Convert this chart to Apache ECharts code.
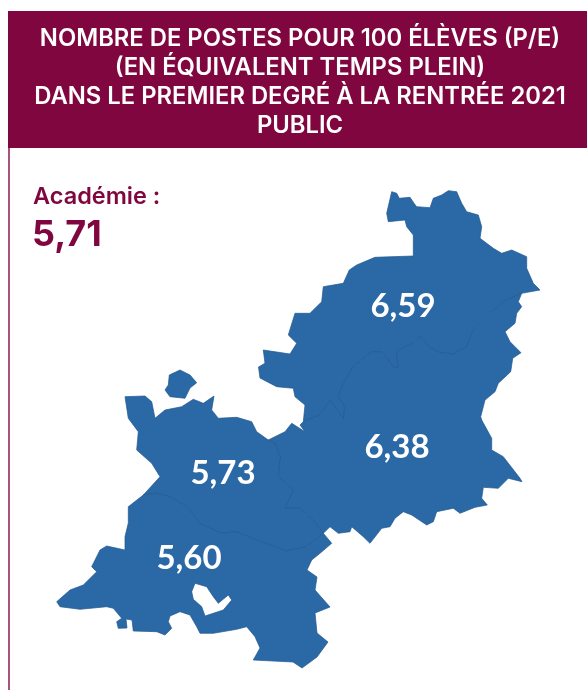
<!DOCTYPE html>
<html lang="fr">
<head>
<meta charset="utf-8">
<title>Nombre de postes pour 100 élèves</title>
<style>
html,body{margin:0;padding:0;background:#fff;}
#chart{width:587px;height:690px;}
</style>
<script src="https://cdn.jsdelivr.net/npm/echarts@6/dist/echarts.min.js"></script>
</head>
<body>
<div id="chart"></div>
<script>
// valeurs
const regionNames = ['nord', 'est', 'centre', 'sud'];
const regionValues = [6.59, 6.38, 5.73, 5.60];
const academieValue = 5.71;
const titleLines = [
    'NOMBRE DE POSTES POUR 100 ÉLÈVES (P/E)',
    '(EN ÉQUIVALENT TEMPS PLEIN)',
    'DANS LE PREMIER DEGRÉ À LA RENTRÉE 2021',
    'PUBLIC'
];

// contours de la carte, en pixels de l'image (x, y vers le bas)
const arcNord = [[303.3,421.7],[305,405],[295,396.7],[293.3,388.3],[276.7,386.7],[260,378],[258.5,367],[265,363.3],[263.3,350],[290,354],[296.7,343.3],[288.3,335],[295,313.3],[310,313.3],[321.7,301.7],[323.3,286.7],[343.3,283.3],[349.3,270],[356.7,265],[375,257.3],[413.3,256],[413.3,235],[406.7,226.7],[405,220],[388.3,221.7],[386.7,213.3],[391.7,191.7],[396.7,193.3],[399.3,198.3],[410,197.3],[414,203.3],[416.7,206.7],[430,207.7],[433.3,198.3],[441.7,195],[448.3,190.7],[456.7,191.7],[461.7,203.3],[466.7,211.7],[478.3,215],[481.7,226.7],[480,238.3],[493.3,248.3],[501.7,253.3],[511.7,250],[526.7,256.7],[526.7,268.3],[533.3,283.3],[540,290],[521.7,293.3]];
const arcEst = [[521.7,293.3],[518.3,301.7],[521.7,306.7],[516.7,313.3],[515,323.3],[505,331.7],[510,341.7],[521,352.7],[512.7,358.3],[510.7,371.7],[498.3,383.3],[495,391.7],[485,400],[480.7,416.7],[481.7,420],[491.7,438.3],[491.7,450],[503.3,456.7],[520,478.3],[522,481.7],[508.3,478.3],[498.3,488.3],[483.3,487.3],[481.7,498.3],[487.3,505],[475,507.3],[460,513.3],[453.3,508.3],[436.7,511.7],[433.3,521.7],[426.7,525],[411.7,515],[403.3,511.7],[395,518.3],[390,526.7],[381.7,528.3],[370,543.3],[363.3,536.7],[351.7,526.7],[350,531.7],[338.3,533.3],[330,526.7],[323.3,533.3]];
const arcSud = [[323.3,533.3],[331.7,543.3],[320,553.3],[311.7,560],[307,570],[317,577],[315,590],[330,607],[315,613],[317,633],[328,642],[317,657],[302,668],[293,662],[253.3,660],[260,648],[255,636.7],[246.7,626.7],[236.7,629.3],[213.3,633.3],[200,633.3],[196.7,626.7],[190,615],[180,611.7],[170,616],[168.3,621.7],[171.7,628.3],[165,635],[156.7,631.7],[133.3,631],[132,620],[126,619],[127,628],[118.3,628.3],[116.7,621.7],[121.7,618.3],[113.3,608.3],[106.7,606.7],[80,609.3],[60,606.7],[56.7,601.7],[70,590],[83.3,585],[96.7,571.7],[91.7,566.7],[100,550],[106.7,546],[125,550],[125,536.7],[128.3,523],[128.3,506.7],[143.3,495]];
const arcOuest = [[143.3,495],[160,476.7],[151.7,463.3],[136.7,450],[138.3,431.7],[128.3,418.3],[125,396.7],[145,396],[151.7,401.7],[155,418.3],[165,410],[181.7,406.7],[193.3,399.3],[203.3,403.3],[214,396],[211.7,410],[218.3,418.3],[236.7,417.3],[251.7,421.7],[256.7,431.7],[268.3,440]];
const arcBaie = [[268.3,440],[285,431.7],[291.7,423.3],[305,431.7],[300,425],[303.3,421.7]];
const limiteNordEst = [[303.3,421.7],[320,415],[330,400],[343.3,418.3],[345,406.7],[338.3,396.7],[343.3,383.3],[353.3,366.7],[371.7,351.7],[381.7,351.7],[393.3,366.7],[398.3,368.3],[396.7,351.7],[415,341.7],[420,336.7],[428.3,346.7],[440,352.7],[453.3,354],[466.7,346.7],[473.3,330],[490,313.3],[503.3,301.7],[521.7,293.3]];
const limiteEstCentre = [[268.3,440],[275,443],[280,456.7],[278.3,476.7],[293.3,490],[285,508.3],[300,508.3],[313.3,520],[323.3,533.3]];
const limiteCentreSud = [[143.3,495],[156.7,493.3],[170,496.7],[186.7,506.7],[200,523.3],[221.7,533.3],[236.7,531.7],[256.7,540],[286.7,551],[306.7,546.7],[323.3,533.3]];
const ile = [[180,370],[190,375],[196.7,382.7],[190,388],[185,398.3],[170,396.7],[165,390],[168.3,385],[169.3,375],[180,370]];
// trou : sens inverse du contour
const enclave = [[195,583.3],[191.7,591.7],[193.3,599.3],[201.7,606.7],[205,616],[223.3,610],[231.7,600],[228.3,595],[218.3,603.3],[213.3,596.7],[206.7,586.7],[195,583.3]];
const labelPoints = [[403,306],[397,447],[223,473],[189,558]];

// y inversé : la carte suit la convention latitude
function flip(pts){
    return pts.map((p)=>[p[0],-p[1]])
}
function back(pts){
    return pts.slice().reverse()
}
function ring(...arcs){
    let pts = [].concat(...arcs)
    pts.push(pts[0])
    return flip(pts)
}
function feature(i,geometry){
    return {
        type:'Feature',
        properties:{name:regionNames[i],cp:[labelPoints[i][0],-labelPoints[i][1]]},
        geometry
    }
}

const geoJson = {
    type:'FeatureCollection',
    features:[
        feature(0,{type:'Polygon',coordinates:[ring(arcNord,back(limiteNordEst))]}),
        feature(1,{type:'Polygon',coordinates:[ring(arcEst,back(limiteEstCentre),arcBaie,limiteNordEst)]}),
        feature(2,{type:'MultiPolygon',coordinates:[[ring(arcOuest,limiteEstCentre,back(limiteCentreSud))],[flip(ile)]]}),
        feature(3,{type:'Polygon',coordinates:[ring(arcSud,limiteCentreSud),flip(enclave)]})
    ]
};
echarts.registerMap('academie',geoJson);

function frNumber(v){
    return v.toFixed(2).replace('.',',')
}

const chart = echarts.init(document.getElementById('chart'),null,{renderer:'canvas'});
chart.setOption({
    animation:false,
    backgroundColor:'#fff',
    graphic:[
        {type:'rect',z:-1,shape:{x:8,y:11,width:579,height:137},style:{fill:'#7f063e'}},
        {type:'rect',z:-1,shape:{x:8,y:148,width:2,height:542},style:{fill:'#a8527f'}}
    ],
    title:[
        {
            text:titleLines.join('\n'),
            left:300,
            top:24,
            padding:0,
            textAlign:'center',
            textStyle:{color:'#fff',fontFamily:'Inter',fontWeight:600,fontSize:23.8,lineHeight:29}
        },
        {
            text:'Académie :',
            left:33,
            top:185,
            padding:0,
            textStyle:{color:'#7f063e',fontFamily:'Inter',fontWeight:600,fontSize:23.5}
        },
        {
            text:frNumber(academieValue),
            left:32,
            top:217,
            padding:0,
            textStyle:{color:'#7f063e',fontFamily:'Inter',fontWeight:700,fontSize:36}
        }
    ],
    series:[{
        type:'map',
        map:'academie',
        silent:true,
        left:0,
        top:0,
        width:587,
        height:690,
        aspectScale:1,
        boundingCoords:[[0,0],[587,-690]],
        itemStyle:{areaColor:'#2a69a6',borderColor:'#20588f',borderWidth:0.7},
        label:{
            show:true,
            color:'#fff',
            fontFamily:'Lato',
            fontWeight:700,
            fontSize:33,
            formatter:(p)=>frNumber(p.value)
        },
        data:regionNames.map((name,i)=>({name,value:regionValues[i]}))
    }]
});
</script>
</body>
</html>
